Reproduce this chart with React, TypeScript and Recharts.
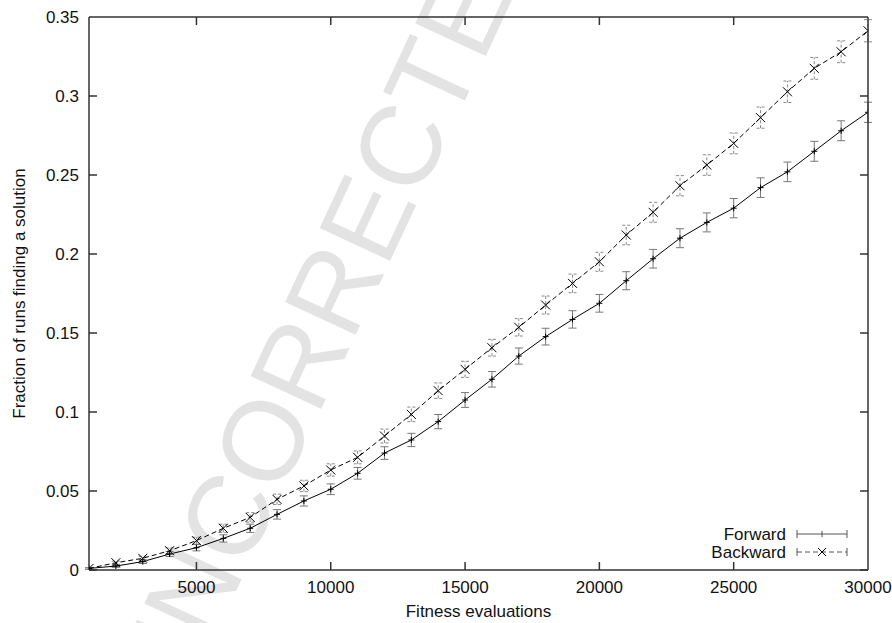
import { LineChart, Line, XAxis, YAxis, ErrorBar, Legend } from "recharts";

// evaluations on the x axis
const evaluations = [
  1000, 2000, 3000, 4000, 5000, 6000, 7000, 8000, 9000, 10000,
  11000, 12000, 13000, 14000, 15000, 16000, 17000, 18000, 19000, 20000,
  21000, 22000, 23000, 24000, 25000, 26000, 27000, 28000, 29000, 30000,
];

const forward = [
  0.001, 0.0025, 0.0053, 0.0101, 0.0141, 0.02, 0.0264, 0.0352, 0.0437, 0.0511,
  0.0612, 0.074, 0.0823, 0.0939, 0.1076, 0.1207, 0.1354, 0.1477, 0.1586, 0.1688,
  0.1831, 0.197, 0.21, 0.22, 0.229, 0.242, 0.252, 0.265, 0.278, 0.2897,
];
const forwardErr = [
  0.0005, 0.0008, 0.0012, 0.0016, 0.002, 0.0023, 0.0026, 0.003, 0.0032, 0.0034,
  0.0037, 0.004, 0.0042, 0.0045, 0.0047, 0.0049, 0.0051, 0.0053, 0.0055, 0.0056,
  0.0057, 0.0059, 0.006, 0.006, 0.0061, 0.0062, 0.0062, 0.0063, 0.0063, 0.0064,
];

const backward = [
  0.001, 0.0046, 0.0074, 0.0122, 0.0186, 0.0264, 0.0333, 0.0447, 0.0532, 0.0633,
  0.0713, 0.0848, 0.0985, 0.1135, 0.127, 0.1407, 0.1536, 0.1677, 0.1814, 0.1951,
  0.212, 0.2264, 0.2432, 0.2563, 0.27, 0.2863, 0.3027, 0.3175, 0.328, 0.3413,
];
const backwardErr = [
  0.0005, 0.001, 0.0013, 0.0018, 0.0022, 0.0026, 0.003, 0.0033, 0.0036, 0.0039,
  0.0041, 0.0044, 0.0046, 0.0049, 0.0051, 0.0053, 0.0055, 0.0057, 0.0059, 0.006,
  0.0062, 0.0063, 0.0064, 0.0065, 0.0066, 0.0067, 0.0068, 0.0069, 0.0069, 0.007,
];

const xTicks = [5000, 10000, 15000, 20000, 25000, 30000];
const yTicks = [0, 0.05, 0.1, 0.15, 0.2, 0.25, 0.3, 0.35];

const data = evaluations.map((e, i) => ({
  e,
  forward: forward[i],
  forwardErr: forwardErr[i],
  backward: backward[i],
  backwardErr: backwardErr[i],
}));

const FONT = '"Liberation Sans", Arial, Helvetica, sans-serif';
const AXIS = "#333";
const TXT = "#111";

// chart box and plot box (margins + axis sizes below)
const W = 884;
const H = 612;
const MARGIN = { top: 9, right: 24, left: 8, bottom: 0 };
const Y_AXIS_W = 73;
const X_AXIS_H = 50;
const PLOT_W = W - MARGIN.left - MARGIN.right - Y_AXIS_W;
const PLOT_H = H - MARGIN.top - MARGIN.bottom - X_AXIS_H;
const TICK = 8;

// bottom axis tick: label, inward tick, mirrored tick on top, right frame edge at the last tick
const BottomTick = ({ x, y, payload, index, visibleTicksCount }: any) => {
  const top = y - PLOT_H;
  const last = index === visibleTicksCount - 1;
  return (
    <g>
      <path
        d={`M${x},${y}v${-TICK}M${x},${top}v${TICK}${last ? `M${x},${y}V${top}` : ""}`}
        stroke={AXIS}
        strokeWidth={1.5}
        fill="none"
      />
      <text x={x} y={y + 23} textAnchor="middle" fontSize={17} fontFamily={FONT} fill={TXT}>
        {payload.value}
      </text>
    </g>
  );
};

// left axis tick: label, inward tick, mirrored tick on the right, top frame edge at the last tick
const LeftTick = ({ x, y, payload, index, visibleTicksCount }: any) => {
  const right = x + PLOT_W;
  const last = index === visibleTicksCount - 1;
  return (
    <g>
      <path
        d={`M${x},${y}h${TICK}M${right},${y}h${-TICK}${last ? `M${x},${y}H${right}` : ""}`}
        stroke={AXIS}
        strokeWidth={1.5}
        fill="none"
      />
      <text x={x - 10} y={y} dy="0.36em" textAnchor="end" fontSize={17} fontFamily={FONT} fill={TXT}>
        {String(payload.value)}
      </text>
    </g>
  );
};

const PlusDot = ({ cx, cy }: any) => (
  <path d={`M${cx - 3},${cy}H${cx + 3}M${cx},${cy - 3}V${cy + 3}`} stroke="#000" strokeWidth={1} />
);

const CrossDot = ({ cx, cy }: any) => (
  <path
    d={`M${cx - 4.5},${cy - 4.5}L${cx + 4.5},${cy + 4.5}M${cx - 4.5},${cy + 4.5}L${cx + 4.5},${cy - 4.5}`}
    stroke="#000"
    strokeWidth={1}
  />
);

const KeyBox = () => (
  <svg width={180} height={40} style={{ display: "block" }}>
    <g fontFamily={FONT} fontSize={17} fill={TXT}>
      <text x={98} y={10} dy="0.36em" textAnchor="end">Forward</text>
      <text x={98} y={28} dy="0.36em" textAnchor="end">Backward</text>
    </g>
    <g stroke="#555" strokeWidth={1}>
      <path d="M109,10H159M109,6V14M159,6V14M134,7V13" />
      <path d="M109,28H159" strokeDasharray="5 3" />
      <path d="M109,24V32M159,24V32" />
    </g>
    <path d="M130,24L138,32M130,32L138,24" stroke="#000" strokeWidth={1} />
  </svg>
);

const App = () => {
  return (
    <div style={{ position: "relative", width: 892, height: 623, overflow: "hidden" }}>
      <style>{"body{margin:0}"}</style>
      <svg width={892} height={623} style={{ position: "absolute", left: 0, top: 0, zIndex: 0 }}>
        <text
          x={327}
          y={304}
          textAnchor="middle"
          dominantBaseline="central"
          fontSize={113}
          fontFamily={FONT}
          fill="#e3e3e3"
          transform="rotate(-65 327 304)"
        >
          UNCORRECTED
        </text>
      </svg>
      <div style={{ position: "absolute", left: 8, top: 8, zIndex: 1 }}>
        <LineChart width={W} height={H} data={data} margin={MARGIN}>
          <XAxis
            dataKey="e"
            type="number"
            domain={[1000, 30000]}
            ticks={xTicks}
            allowDataOverflow
            height={X_AXIS_H}
            tickSize={0}
            tickMargin={0}
            tickLine={false}
            tick={<BottomTick />}
            axisLine={{ stroke: AXIS, strokeWidth: 1.5 }}
            label={{
              value: "Fitness evaluations",
              position: "insideBottom",
              offset: 3,
              fontSize: 17,
              fontFamily: FONT,
              fill: TXT,
            }}
          />
          <YAxis
            type="number"
            domain={[0, 0.35]}
            ticks={yTicks}
            allowDataOverflow
            width={Y_AXIS_W}
            tickSize={0}
            tickMargin={0}
            tickLine={false}
            tick={<LeftTick />}
            axisLine={{ stroke: AXIS, strokeWidth: 1.5 }}
            label={{
              value: "Fraction of runs finding a solution",
              angle: -90,
              position: "center",
              dx: -34,
              fontSize: 17,
              fontFamily: FONT,
              fill: TXT,
            }}
          />
          <Line
            dataKey="forward"
            stroke="#000"
            strokeWidth={1}
            dot={(p: any) => <PlusDot key={`f${p.index}`} {...p} />}
            isAnimationActive={false}
          >
            <ErrorBar dataKey="forwardErr" width={4} stroke="#777" strokeWidth={1} direction="y" />
          </Line>
          <Line
            dataKey="backward"
            stroke="#000"
            strokeWidth={1}
            strokeDasharray="5 3"
            dot={(p: any) => <CrossDot key={`b${p.index}`} {...p} />}
            isAnimationActive={false}
          >
            <ErrorBar
              dataKey="backwardErr"
              width={4}
              stroke="#888"
              strokeWidth={1}
              strokeDasharray="3 2"
              direction="y"
            />
          </Line>
          <Legend
            layout="vertical"
            align="center"
            verticalAlign="middle"
            wrapperStyle={{ left: 680, top: 516, width: 180, height: 40 }}
            content={() => <KeyBox />}
          />
        </LineChart>
      </div>
    </div>
  );
};

export default App;
